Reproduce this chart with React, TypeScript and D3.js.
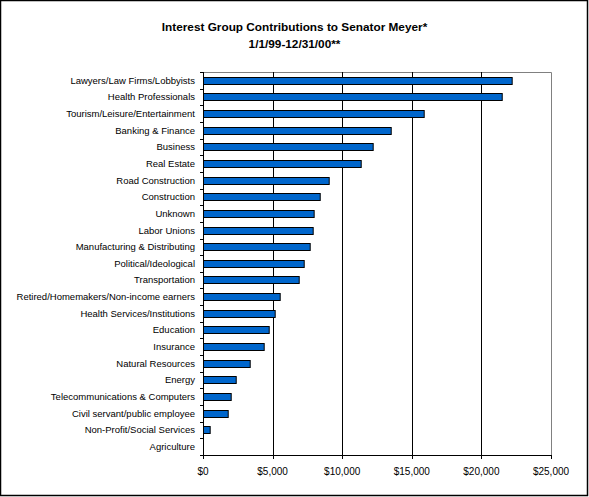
import React from 'react';
import * as d3 from 'd3';

const categories = [
  'Lawyers/Law Firms/Lobbyists',
  'Health Professionals',
  'Tourism/Leisure/Entertainment',
  'Banking & Finance',
  'Business',
  'Real Estate',
  'Road Construction',
  'Construction',
  'Unknown',
  'Labor Unions',
  'Manufacturing & Distributing',
  'Political/Ideological',
  'Transportation',
  'Retired/Homemakers/Non-income earners',
  'Health Services/Institutions',
  'Education',
  'Insurance',
  'Natural Resources',
  'Energy',
  'Telecommunications & Computers',
  'Civil servant/public employee',
  'Non-Profit/Social Services',
  'Agriculture',
];

const contributions = [
  22175, 21460, 15855, 13485, 12190, 11330, 9030, 8385, 7950, 7880, 7665, 7235,
  6875, 5510, 5150, 4720, 4360, 3355, 2350, 1990, 1775, 480, 0,
];

const xTicks = [0, 5000, 10000, 15000, 20000, 25000];
const titleLines = ['Interest Group Contributions to Senator Meyer*', '1/1/99-12/31/00**'];

const W = 589;
const H = 497;
const margin = { top: 72, right: 38, bottom: 42, left: 203 };

export default function App() {
  const innerW = W - margin.left - margin.right;
  const innerH = H - margin.top - margin.bottom;

  const x = d3.scaleLinear().domain([0, 25000]).range([0, innerW]);
  const y = d3.scaleBand().domain(categories).range([0, innerH]).paddingInner(0.56).paddingOuter(0.28);
  const step = innerH / categories.length;
  const fmt = (v: number) => '$' + d3.format(',')(v);
  const font = 'Arial, "Liberation Sans", sans-serif';

  return (
    <svg width={W} height={H} style={{ position: 'absolute', left: 0, top: 0 }} fontFamily={font}>
      <rect x={0} y={0} width={W} height={H} fill="#fff" />
      <rect x={0.5} y={0.5} width={587} height={495} fill="none" stroke="#000" strokeWidth={1.5} />
      {titleLines.map((t, i) => (
        <text key={t} x={W / 2} y={31 + i * 17} textAnchor="middle" fontSize={11.8} fontWeight="bold">
          {t}
        </text>
      ))}
      <g transform={`translate(${margin.left},${margin.top})`}>
        {/* plot border: gray top/right */}
        <path d={`M0.5,0.5H${innerW + 0.5}V${innerH}`} fill="none" stroke="#808080" />
        {xTicks.slice(1, -1).map((t) => (
          <line key={t} x1={Math.round(x(t)) + 0.5} x2={Math.round(x(t)) + 0.5} y1={0} y2={innerH} stroke="#000" />
        ))}
        {categories.map((c, i) => (
          <rect
            key={c}
            x={0.5}
            y={Math.round(y(c) || 0) + 0.5}
            width={Math.max(0, x(contributions[i]))}
            height={Math.round(y.bandwidth())}
            fill="#0066CC"
            stroke="#000"
            strokeWidth={contributions[i] > 0 ? 1 : 0}
          />
        ))}
        {/* y axis */}
        <line x1={0.5} x2={0.5} y1={0} y2={innerH + 4} stroke="#000" />
        {d3.range(categories.length + 1).map((i) => (
          <line key={i} x1={-3} x2={0.5} y1={Math.round(i * step) + 0.5} y2={Math.round(i * step) + 0.5} stroke="#000" />
        ))}
        {categories.map((c) => (
          <text key={c} x={-8} y={(y(c) || 0) + y.bandwidth() / 2} dy="0.35em" textAnchor="end" fontSize={9.5}>
            {c}
          </text>
        ))}
        {/* x axis */}
        <line x1={0} x2={innerW + 1} y1={innerH + 0.5} y2={innerH + 0.5} stroke="#000" />
        {xTicks.map((t) => (
          <g key={t}>
            <line x1={Math.round(x(t)) + 0.5} x2={Math.round(x(t)) + 0.5} y1={innerH} y2={innerH + 4} stroke="#000" />
            <text x={x(t)} y={innerH + 20} textAnchor="middle" fontSize={10}>
              {fmt(t)}
            </text>
          </g>
        ))}
      </g>
    </svg>
  );
}
